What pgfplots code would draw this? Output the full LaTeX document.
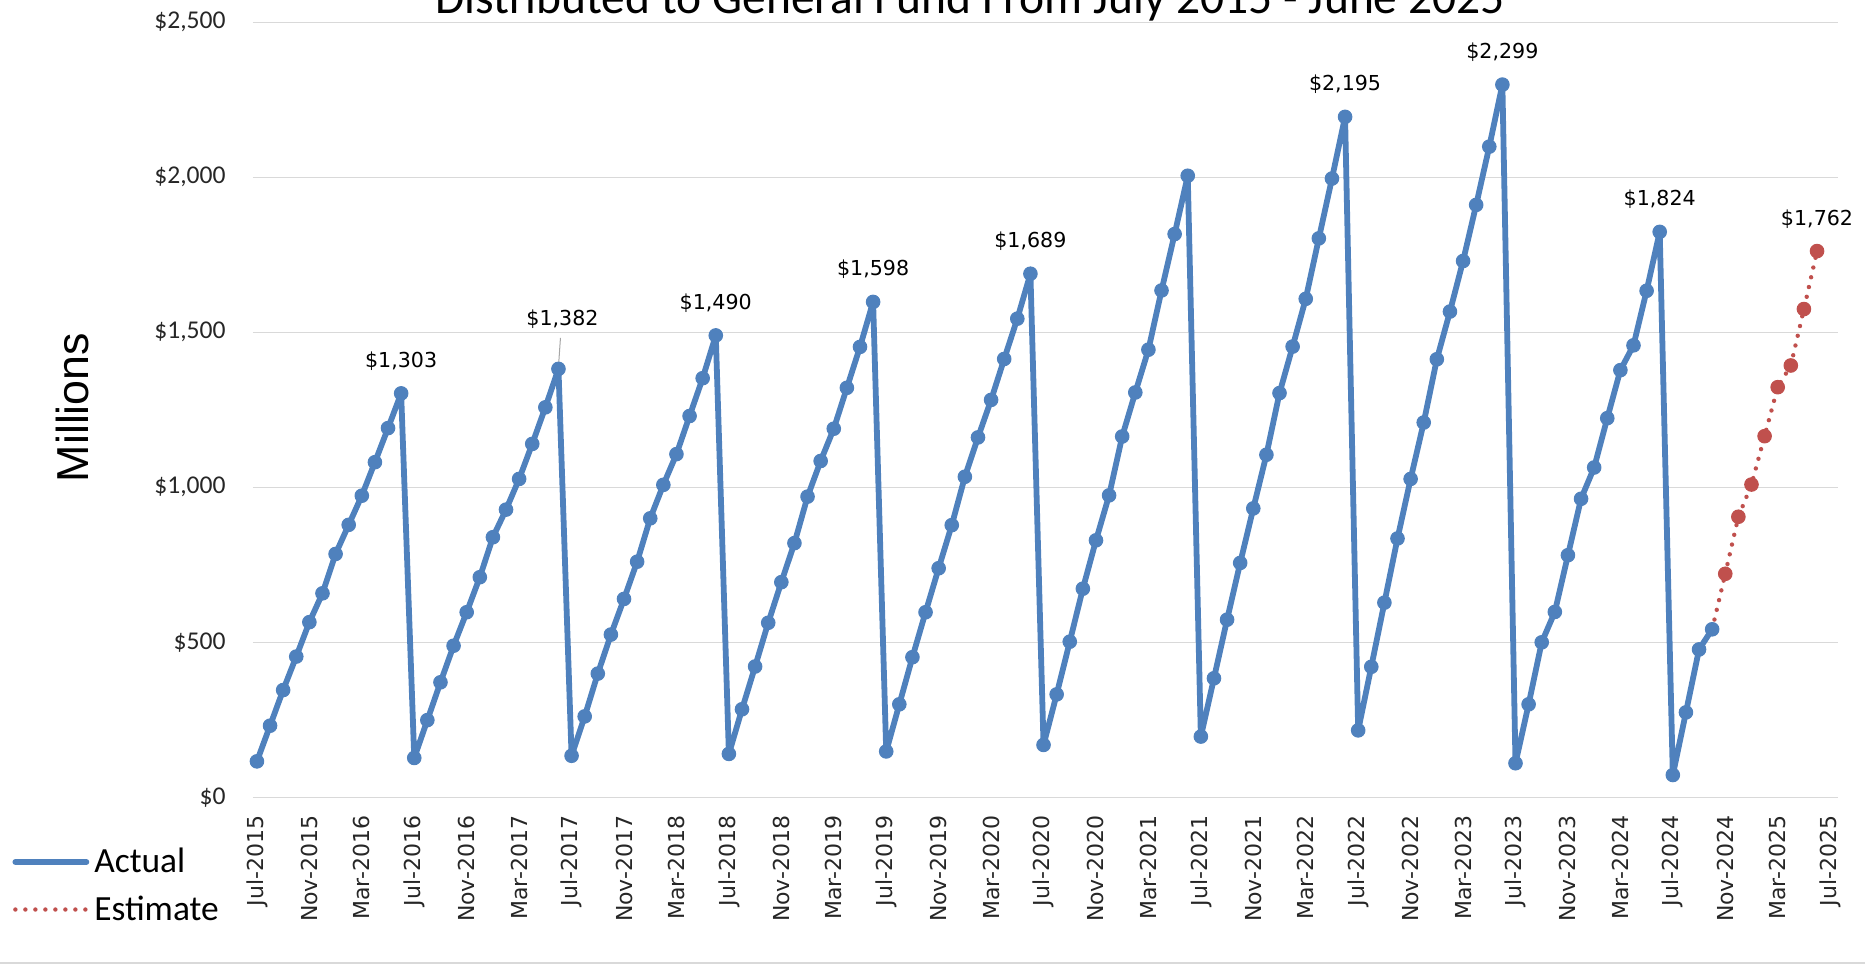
\documentclass[border=0pt]{standalone}
\usepackage{pgfplots}
\pgfplotsset{compat=1.18}
\usepackage{fontspec}
\setmainfont{Carlito}
\newfontfamily\dvs{DejaVu Sans}
\newfontfamily\lib{Liberation Sans}
\definecolor{actblue}{HTML}{4F81BD}
\definecolor{estred}{HTML}{C0504D}
\definecolor{gridgray}{HTML}{D9D9D9}

\pgfplotsset{
  actual/.style={actblue, line width=2.9pt, line join=round, line cap=round, mark=*, mark size=3.4pt,
    mark options={solid, fill=actblue, draw=actblue, line width=0.5pt}},
  estline/.style={estred, line width=2.2pt, line cap=round, dash pattern=on 0pt off 5pt},
  estimate/.style={estline, mark=*, mark size=3.4pt,
    mark options={solid, fill=estred, draw=estred, line width=0.5pt}},
}

\begin{document}
\begin{tikzpicture}
\begin{axis}[
    at={(126.5pt,-398.65pt)}, anchor=south west,
    width=792.5pt, height=387.5pt, scale only axis,
    clip=false,
    xmin=-0.3, xmax=120.6,
    ymin=0, ymax=2500,
    axis line style={draw=none},
    major tick length=0pt,
    ymajorgrids,
    grid style={gridgray, line width=0.8pt},
    ytick={0,500,...,2500},
    yticklabels={{\$0},{\$500},{\$1,000},{\$1,500},{\$2,000},{\$2,500}},
    yticklabel style={font=\fontsize{12.8pt}{15pt}\selectfont, inner sep=0pt, anchor=east, text=black!85},
    yticklabel shift=13.5pt,
    xtick={0,4,...,120},
    xticklabels={Jul-2015,Nov-2015,Mar-2016,Jul-2016,Nov-2016,Mar-2017,Jul-2017,Nov-2017,Mar-2018,
      Jul-2018,Nov-2018,Mar-2019,Jul-2019,Nov-2019,Mar-2020,Jul-2020,Nov-2020,Mar-2021,
      Jul-2021,Nov-2021,Mar-2022,Jul-2022,Nov-2022,Mar-2023,Jul-2023,Nov-2023,Mar-2024,
      Jul-2024,Nov-2024,Mar-2025,Jul-2025},
    xticklabel style={font=\dvs\fontsize{11pt}{13pt}\selectfont, rotate=90, anchor=east, inner sep=0pt, text=black!85},
    xticklabel shift=9pt,
    legend image code/.code={\draw[#1, mark=none] (0pt,0pt) -- (35.5pt,0pt);},
    legend cell align=left,
    legend style={draw=none, fill=none, at={(-0.152,-0.06)}, anchor=north west,
      inner sep=0pt, font=\fontsize{17.7pt}{21pt}\selectfont, row sep=6pt, column sep=0.5pt,
      nodes={inner sep=2pt}},
  ]
  % first estimate step, under the last actual marker
  \addplot[estline, forget plot] coordinates {(111,542) (112,721)};

  \addplot[actual] coordinates {
    (0,116)(1,231)(2,346)(3,454)(4,565)(5,658)(6,785)(7,879)(8,973)(9,1081)(10,1191)(11,1303)
    (12,127)(13,249)(14,371)(15,489)(16,597)(17,710)(18,839)(19,928)(20,1027)(21,1140)(22,1258)(23,1382)
    (24,134)(25,261)(26,399)(27,525)(28,640)(29,760)(30,900)(31,1008)(32,1107)(33,1230)(34,1352)(35,1490)
    (36,140)(37,284)(38,422)(39,563)(40,694)(41,820)(42,970)(43,1085)(44,1189)(45,1321)(46,1453)(47,1598)
    (48,148)(49,300)(50,452)(51,597)(52,739)(53,878)(54,1034)(55,1161)(56,1282)(57,1414)(58,1544)(59,1689)
    (60,169)(61,332)(62,502)(63,673)(64,829)(65,974)(66,1164)(67,1306)(68,1444)(69,1635)(70,1817)(71,2005)
    (72,196)(73,384)(74,573)(75,756)(76,932)(77,1105)(78,1304)(79,1454)(80,1608)(81,1803)(82,1996)(83,2195)
    (84,216)(85,421)(86,628)(87,835)(88,1027)(89,1209)(90,1413)(91,1567)(92,1730)(93,1911)(94,2099)(95,2299)
    (96,110)(97,300)(98,500)(99,598)(100,781)(101,963)(102,1064)(103,1223)(104,1378)(105,1458)(106,1634)(107,1824)
    (108,72)(109,274)(110,477)(111,542)
  };
  \addlegendentry{Actual}

  \addplot[estimate] coordinates {
    (112,721)(113,905)(114,1009)(115,1165)(116,1323)(117,1393)(118,1575)(119,1762)
  };
  \addlegendentry{Estimate}

  % data labels on the year-end peaks
  \addplot[draw=none, mark=none, forget plot, nodes near coords, point meta=explicit symbolic,
    every node near coord/.append style={font=\dvs\fontsize{10.3pt}{12pt}\selectfont, text=black,
      inner sep=0pt, anchor=base, yshift=13pt}]
    coordinates {
    (11,1303)[{\$1,303}] (35,1490)[{\$1,490}] (47,1598)[{\$1,598}] (59,1689)[{\$1,689}]
    (83,2195)[{\$2,195}] (95,2299)[{\$2,299}] (107,1824)[{\$1,824}] (119,1762)[{\$1,762}]
  };
  \node[font=\dvs\fontsize{10.3pt}{12pt}\selectfont, inner sep=0pt, anchor=base]
    at ([xshift=2pt,yshift=21.5pt]axis cs:23,1382) {\$1,382};
  \draw[gray!70, line width=0.5pt] ([xshift=1pt,yshift=15.5pt]axis cs:23,1382) -- ([yshift=1pt]axis cs:23,1382);
\end{axis}

\node[anchor=base, font=\fontsize{23.75pt}{28pt}\selectfont, inner sep=0pt] at (485pt,-6.5pt)
  {Distributed to General Fund From July 2015 - June 2025};
\node[rotate=90, font=\lib\fontsize{22.4pt}{26pt}\selectfont, inner sep=0pt] at (36pt,-203.75pt) {Millions};
\draw[gridgray, line width=1pt] (0pt,-481.35pt) -- (932.5pt,-481.35pt);

\pgfresetboundingbox
\useasboundingbox (0pt,0pt) rectangle (932.5pt,-483pt);
\end{tikzpicture}
\end{document}
